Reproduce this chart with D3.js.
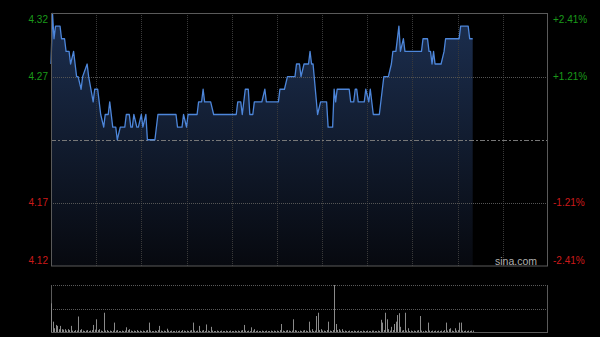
<!DOCTYPE html>
<html>
<head>
<meta charset="utf-8">
<style>
body { margin: 0; background: #000; }
svg { display: block; }
</style>
<script src="https://d3js.org/d3.v7.min.js"></script>
</head>
<body>
<div id="chart"></div>
<script>
// minutes since open (330-minute session) and price at each turning point
var priceMin = [0,1,2,3,6,7,9,10,12,13,15,16,17,18,20,21,24,25,28,29,31,32,33,35,36,38,39,41,43,44,46,49,50,52,53,54,55,57,58,60,61,63,64,69,71,83,84,87,88,90,91,97,98,100,101,102,106,108,123,124,126,127,129,131,132,134,135,140,142,143,151,152,155,157,162,163,165,166,168,171,172,173,174,177,179,183,184,187,188,189,190,198,199,201,202,203,204,208,209,211,212,214,218,220,221,224,226,227,229,231,232,234,235,246,247,250,251,252,253,254,255,259,261,262,271,272,277,278,280];
var priceVal = [4.28,4.32,4.30,4.31,4.31,4.30,4.30,4.29,4.29,4.28,4.29,4.28,4.27,4.27,4.26,4.27,4.28,4.27,4.25,4.26,4.26,4.25,4.24,4.23,4.24,4.24,4.25,4.23,4.23,4.22,4.23,4.23,4.24,4.24,4.23,4.23,4.24,4.23,4.23,4.24,4.23,4.24,4.22,4.22,4.24,4.24,4.23,4.23,4.24,4.23,4.24,4.24,4.25,4.25,4.26,4.25,4.25,4.24,4.24,4.25,4.25,4.24,4.26,4.26,4.24,4.24,4.25,4.25,4.26,4.25,4.25,4.26,4.26,4.27,4.27,4.28,4.28,4.27,4.28,4.28,4.29,4.28,4.28,4.24,4.25,4.25,4.23,4.23,4.26,4.25,4.26,4.26,4.25,4.25,4.26,4.26,4.25,4.25,4.26,4.25,4.26,4.24,4.24,4.26,4.27,4.27,4.28,4.29,4.29,4.31,4.29,4.30,4.29,4.29,4.30,4.30,4.29,4.29,4.28,4.29,4.28,4.28,4.29,4.30,4.30,4.31,4.31,4.30,4.30];

// volume per minute (relative units)
var volume = [
  61,22,8,15,13,6,13,6,5,6,3,6,4,13,3,2,4,3,33,4,
  6,3,2,3,4,2,3,4,15,5,27,4,6,3,2,41,3,4,2,3,
  2,3,20,3,4,2,2,3,2,3,10,4,6,3,2,3,2,4,2,3,
  2,3,2,3,4,20,3,2,2,3,2,4,13,3,2,3,2,7,3,2,
  3,2,2,3,2,3,2,4,3,2,3,2,3,4,20,3,2,3,13,2,
  3,4,2,16,3,2,11,3,2,2,3,2,2,3,2,2,3,2,2,3,
  2,2,3,2,3,2,3,4,15,3,2,3,2,10,3,6,2,3,2,2,
  3,2,2,3,2,2,3,2,3,2,3,2,4,17,3,2,3,4,3,2,
  3,27,4,3,2,3,2,3,4,3,2,22,3,6,2,3,34,41,4,6,
  3,3,2,4,22,3,2,4,100,17,4,6,3,6,2,3,2,2,3,2,
  2,3,2,2,3,2,2,3,2,2,3,2,2,3,3,2,2,3,2,26,
  20,4,41,27,6,3,11,4,17,22,36,40,11,3,4,41,3,8,2,3,
  2,3,2,3,4,34,3,2,3,2,20,3,2,3,2,3,2,3,2,3,
  2,4,20,3,6,8,3,2,8,3,4,20,20,3,2,3,2,3,2,3,
  3
];

var leftTicks = [4.32, 4.27, 4.17, 4.12];
var rightTicks = ["+2.41%", "+1.21%", "-1.21%", "-2.41%"];
var prevClose = 4.22;

var W = 600, H = 337;
var svg = d3.select("#chart").append("svg").attr("width", W).attr("height", H);
svg.append("rect").attr("width", W).attr("height", H).attr("fill", "#000");

var x = d3.scaleLinear().domain([0, 330]).range([51, 548]);
var y = d3.scaleLinear().domain([4.12, 4.32]).range([266, 13.5]);

var defs = svg.append("defs");
var grad = defs.append("linearGradient").attr("id", "fill")
    .attr("gradientUnits", "userSpaceOnUse")
    .attr("x1", 0).attr("y1", 13).attr("x2", 0).attr("y2", 266);
grad.append("stop").attr("offset", "0%").attr("stop-color", "#1c2f50");
grad.append("stop").attr("offset", "100%").attr("stop-color", "#07090f");

var pts = priceMin.map(function(m, i) { return [m, priceVal[i]]; });

// area under price
svg.append("path")
    .datum(pts)
    .attr("fill", "url(#fill)")
    .attr("d", d3.area()
        .x(function(d) { return x(d[0]); })
        .y0(y(4.12))
        .y1(function(d) { return y(d[1]); }));

// vertical grid every 30 minutes
var vg = d3.range(30, 330, 30);
svg.selectAll(".vg").data(vg).enter().append("line")
    .attr("x1", function(d) { return Math.round(x(d)) + 0.5; })
    .attr("x2", function(d) { return Math.round(x(d)) + 0.5; })
    .attr("y1", 13).attr("y2", 266)
    .attr("stroke", "#3a3a3a").attr("stroke-dasharray", "1,1");

// horizontal grid
svg.selectAll(".hg").data([4.27, 4.17]).enter().append("line")
    .attr("x1", 51).attr("x2", 548)
    .attr("y1", function(d) { return Math.round(y(d)) + 0.5; })
    .attr("y2", function(d) { return Math.round(y(d)) + 0.5; })
    .attr("stroke", "#555").attr("stroke-dasharray", "1,1");

// previous close
svg.append("line")
    .attr("x1", 51).attr("x2", 548)
    .attr("y1", Math.round(y(prevClose)) + 0.5).attr("y2", Math.round(y(prevClose)) + 0.5)
    .attr("stroke", "#777").attr("stroke-dasharray", "5,2,2,2");

// price line
svg.append("path")
    .datum(pts)
    .attr("fill", "none")
    .attr("stroke", "#4d86da")
    .attr("stroke-width", 1.3)
    .attr("stroke-linejoin", "round")
    .attr("d", d3.line()
        .x(function(d) { return x(d[0]); })
        .y(function(d) { return y(d[1]); }));

// frame
svg.append("rect")
    .attr("x", 51.5).attr("y", 13.5).attr("width", 496).attr("height", 252.5)
    .attr("fill", "none").attr("stroke", "#5a5a5a");

// axis labels
function labelY(d, i) {
    if (i === 0) return y(d) + 7;
    if (i === leftTicks.length - 1) return y(d) - 5;
    return y(d) + 0.5;
}
svg.selectAll(".ly").data(leftTicks).enter().append("text")
    .attr("x", 48).attr("y", labelY)
    .attr("text-anchor", "end").attr("dominant-baseline", "middle")
    .attr("font-family", "Liberation Sans, Arial, sans-serif").attr("font-size", "10px")
    .attr("fill", function(d) { return d > prevClose ? "#1a9a1a" : "#cc1a1a"; })
    .text(function(d) { return d.toFixed(2); });

svg.selectAll(".ry").data(leftTicks).enter().append("text")
    .attr("x", 553).attr("y", labelY)
    .attr("dominant-baseline", "middle")
    .attr("font-family", "Liberation Sans, Arial, sans-serif").attr("font-size", "10px")
    .attr("fill", function(d) { return d > prevClose ? "#1a9a1a" : "#cc1a1a"; })
    .text(function(d, i) { return rightTicks[i]; });

svg.append("text")
    .attr("x", 537).attr("y", 265)
    .attr("text-anchor", "end")
    .attr("font-family", "Liberation Sans, Arial, sans-serif").attr("font-size", "10.5px")
    .attr("fill", "#b0b0b0")
    .text("sina.com");

// volume panel
var vy = d3.scaleLinear().domain([0, d3.max(volume)]).range([332, 285]);
svg.selectAll(".vh").data([285, 309]).enter().append("line")
    .attr("x1", 51).attr("x2", 548)
    .attr("y1", function(d) { return d + 0.5; }).attr("y2", function(d) { return d + 0.5; })
    .attr("stroke", "#5a5a5a").attr("stroke-dasharray", "1,1");
svg.append("line").attr("x1", 51).attr("x2", 548).attr("y1", 332.5).attr("y2", 332.5).attr("stroke", "#5a5a5a");
svg.append("line").attr("x1", 51.5).attr("x2", 51.5).attr("y1", 285).attr("y2", 333).attr("stroke", "#5a5a5a");
svg.append("line").attr("x1", 547.5).attr("x2", 547.5).attr("y1", 285).attr("y2", 333).attr("stroke", "#5a5a5a");

svg.selectAll(".vb").data(volume).enter().append("line")
    .attr("x1", function(d, i) { return Math.round(x(i)) + 0.5; })
    .attr("x2", function(d, i) { return Math.round(x(i)) + 0.5; })
    .attr("y1", 332)
    .attr("y2", function(d) { return vy(d); })
    .attr("stroke", "#8a8a8a");
</script>
</body>
</html>
